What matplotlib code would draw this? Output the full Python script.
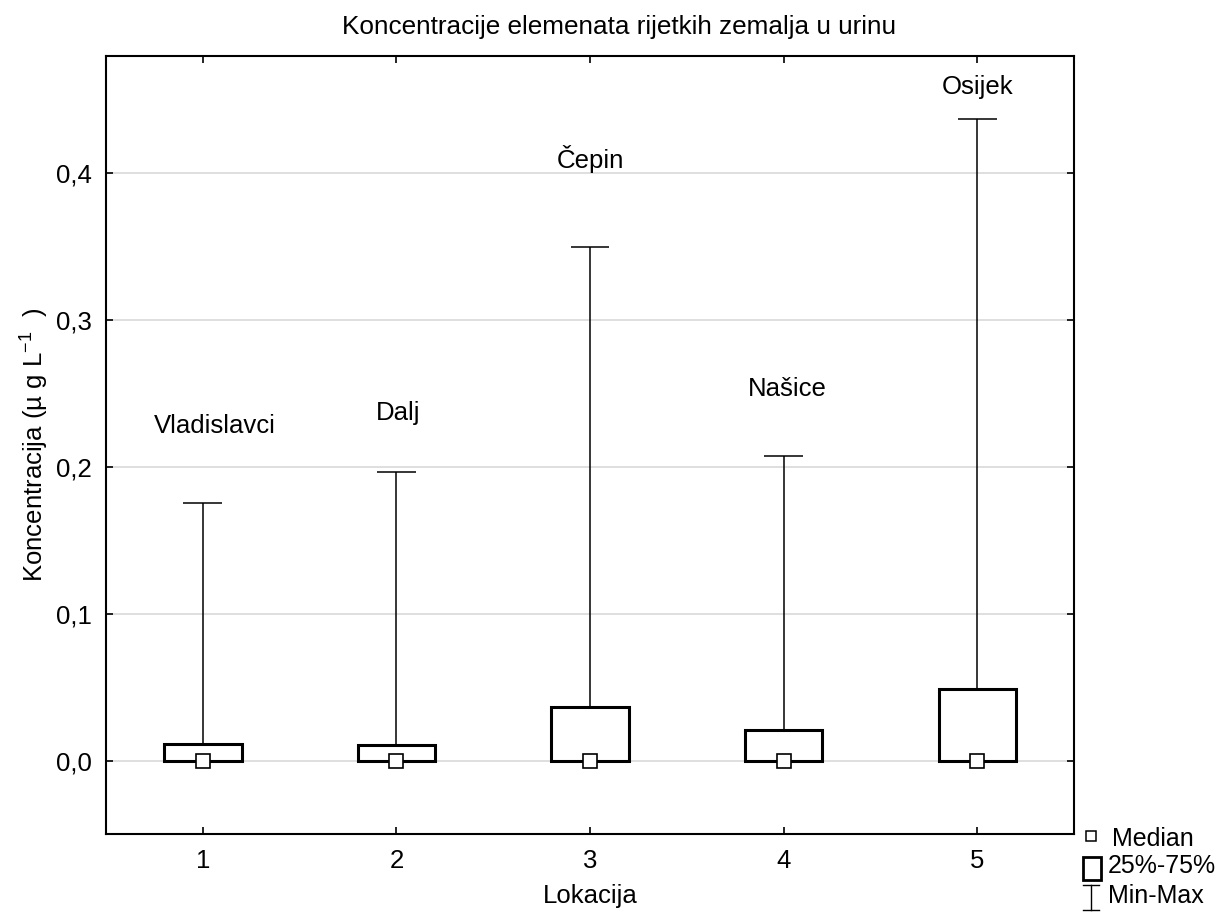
import matplotlib.pyplot as plt
import numpy as np
from matplotlib.lines import Line2D
from matplotlib.patches import Rectangle
from matplotlib.ticker import FuncFormatter

plt.rcParams['font.family'] = ['Liberation Sans', 'DejaVu Sans']
plt.rcParams['mathtext.fontset'] = 'custom'
plt.rcParams['mathtext.rm'] = 'Liberation Sans'
plt.rcParams['mathtext.it'] = 'Liberation Sans'

# data
lokacija = [1, 2, 3, 4, 5]
mjesta = ['Vladislavci', 'Dalj', 'Čepin', 'Našice', 'Osijek']
medijan = [0.0, 0.0, 0.0, 0.0, 0.0]
q25 = [0.0, 0.0, 0.0, 0.0, 0.0]
q75 = [0.0116, 0.0109, 0.0363, 0.0207, 0.049]
minimum = [0.0, 0.0, 0.0, 0.0, 0.0]
maksimum = [0.1758, 0.1965, 0.3496, 0.2072, 0.4373]
# label positions (data units)
label_x = [1.06, 2.01, 3.0, 4.02, 5.0]
label_y = [0.228, 0.237, 0.4095, 0.2528, 0.4586]

FS = 18.5

fig = plt.figure(figsize=(12.31, 9.21), dpi=100)
ax = fig.add_axes([0.0861, 0.0945, 0.7864, 0.8447])

x = np.array(lokacija)
q25 = np.array(q25)
q75 = np.array(q75)

# whiskers
ax.vlines(x, q75, maksimum, color='black', lw=1.1, zorder=3)
ax.vlines(x, minimum, q25, color='black', lw=1.1, zorder=3)
ax.hlines(maksimum, x - 0.1, x + 0.1, color='black', lw=1.1, zorder=3)
ax.hlines(minimum, x - 0.1, x + 0.1, color='black', lw=1.1, zorder=3)

# boxes
ax.bar(x, q75 - q25, bottom=q25, width=0.4, facecolor='white',
       edgecolor='black', linewidth=2.2, zorder=4)

# medians
ax.plot(x, medijan, 's', ms=9.5, mfc='white', mec='black', mew=1.2,
        ls='none', zorder=5)

for xi, yi, t in zip(label_x, label_y, mjesta):
    ax.text(xi, yi, t, ha='center', va='center', fontsize=FS)

ax.set_xlim(0.5, 5.5)
ax.set_ylim(-0.05, 0.48)
ax.set_xticks(lokacija)
ax.set_yticks([0.0, 0.1, 0.2, 0.3, 0.4])
ax.yaxis.set_major_formatter(FuncFormatter(lambda v, p: f'{v:.1f}'.replace('.', ',')))
ax.grid(axis='y', color='#d9d9d9', lw=1.2, zorder=0)
ax.set_axisbelow(True)
ax.tick_params(direction='in', top=True, right=True, labelsize=FS,
               length=5, width=1.2)
ax.tick_params(axis='y', pad=10)
ax.tick_params(axis='x', pad=11)
for s in ax.spines.values():
    s.set_linewidth(1.5)

fig.text(0.503, 1 - 27 / 921, 'Koncentracije elemenata rijetkih zemalja u urinu',
         fontsize=18.8, ha='center', va='center')
ax.set_xlabel('Lokacija', fontsize=FS, labelpad=8)
ax.set_ylabel('Koncentracija (µ g L$^{-1}$  )', fontsize=FS, labelpad=4)

# legend drawn outside the axes
W, H = 1231, 921
fig.add_artist(Line2D([1091 / W], [1 - 836 / H], marker='s', ms=6.5,
                      mfc='white', mec='black', mew=1.1, ls='none'))
fig.add_artist(Rectangle((1083 / W, 1 - 880 / H), 18 / W, 23 / H,
                         transform=fig.transFigure, fc='white', ec='black', lw=2))
xc = 1091 / W
fig.add_artist(Line2D([xc, xc], [1 - 910 / H, 1 - 885 / H], color='black', lw=1))
fig.add_artist(Line2D([xc - 8 / W, xc + 8 / W], [1 - 910 / H] * 2, color='black', lw=1))
fig.add_artist(Line2D([xc - 8 / W, xc + 8 / W], [1 - 885 / H] * 2, color='black', lw=1))
fig.text(1112 / W, 1 - 839 / H, 'Median', fontsize=18, va='center')
fig.text(1108 / W, 1 - 866 / H, '25%-75%', fontsize=18, va='center')
fig.text(1108 / W, 1 - 896 / H, 'Min-Max', fontsize=18, va='center')

fig.savefig('out.png', dpi=100)
